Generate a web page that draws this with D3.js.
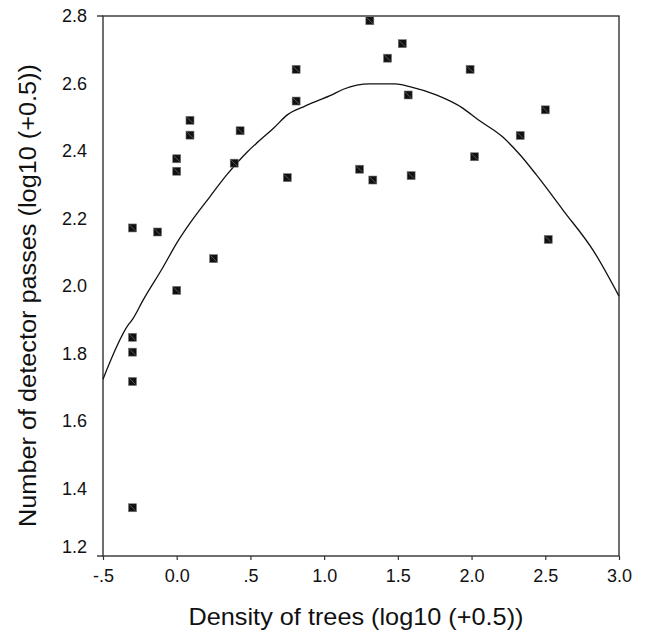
<!DOCTYPE html>
<html><head><meta charset="utf-8">
<script src="https://cdn.jsdelivr.net/npm/d3@7"></script>
<style>body{margin:0;background:#fff}svg{display:block}</style>
</head><body>
<svg id="c" width="645" height="632"></svg>
<script>
// Observed points: density of trees (x) and detector passes (y)
const pointX = [-0.30,-0.30,-0.30,-0.30,-0.30,-0.13,0.00,0.00,0.00,0.09,0.09,0.25,0.39,0.43,0.75,0.81,0.81,1.24,1.31,1.33,1.43,1.53,1.57,1.59,1.99,2.02,2.33,2.50,2.52];
const pointY = [2.172,1.848,1.804,1.717,1.343,2.160,2.377,2.340,1.987,2.491,2.447,2.081,2.364,2.460,2.321,2.642,2.548,2.346,2.786,2.314,2.675,2.718,2.566,2.327,2.642,2.383,2.446,2.522,2.138];
// Fitted curve
const curveX = [-0.50,-0.33,-0.30,-0.227,-0.091,0.00,0.09,0.226,0.339,0.48,0.554,0.66,0.75,0.87,0.95,1.04,1.13,1.31,1.48,1.58,1.76,1.94,2.04,2.21,2.33,2.44,2.62,2.83,3.00];
const curveY = [1.724,1.884,1.901,1.959,2.057,2.127,2.186,2.265,2.329,2.398,2.428,2.469,2.507,2.533,2.548,2.564,2.583,2.599,2.599,2.591,2.566,2.527,2.494,2.442,2.388,2.329,2.225,2.102,1.970];
const xTicks = [-0.5,0,0.5,1.0,1.5,2.0,2.5,3.0];
const xTickLabels = ["-.5","0.0",".5","1.0","1.5","2.0","2.5","3.0"];
const yTicks = [1.2,1.4,1.6,1.8,2.0,2.2,2.4,2.6,2.8];
const yTickLabels = ["1.2","1.4","1.6","1.8","2.0","2.2","2.4","2.6","2.8"];

const svg = d3.select("#c");
const L=103, R=619, T=16, B=556;
const x = d3.scaleLinear().domain([-0.5,3.0]).range([L,R]);
const y = d3.scaleLinear().domain([1.2,2.8]).range([B,T]);
const font = "'Liberation Sans', Arial, Helvetica, sans-serif";
const frame = "#333";

// frame
svg.append("rect").attr("x",L).attr("y",T).attr("width",R-L).attr("height",B-T)
  .attr("fill","none").attr("stroke",frame).attr("stroke-width",1.4);
svg.append("line").attr("x1",L-6).attr("x2",L).attr("y1",T).attr("y2",T).attr("stroke",frame).attr("stroke-width",1.4);
svg.append("line").attr("x1",L-6).attr("x2",L).attr("y1",B).attr("y2",B).attr("stroke",frame).attr("stroke-width",1.4);

// x axis
const xAxis = d3.axisBottom(x).tickValues(xTicks).tickSize(4).tickPadding(9)
  .tickFormat((d,i)=>xTickLabels[i]);
const gx = svg.append("g").attr("transform",`translate(0,${B})`).call(xAxis);
gx.select(".domain").remove();
gx.selectAll(".tick line").attr("stroke",frame).attr("stroke-width",1.2);
gx.selectAll(".tick text").attr("font-family",font).attr("font-size",18).attr("fill","#111");

// y axis labels (no tick marks)
const yAxis = d3.axisLeft(y).tickValues(yTicks).tickSize(0).tickPadding(16)
  .tickFormat((d,i)=>yTickLabels[i]);
const gy = svg.append("g").attr("transform",`translate(${L},0)`).call(yAxis);
gy.select(".domain").remove();
gy.selectAll(".tick text").attr("font-family",font).attr("font-size",18).attr("fill","#111")
  .attr("dy",(d)=> d===1.2 ? "-0.2em" : "0.32em");

// curve
const pts = curveX.map((v,i)=>[v,curveY[i]]);
svg.append("path").attr("d", d3.line().x(d=>x(d[0])).y(d=>y(d[1])).curve(d3.curveMonotoneX)(pts))
  .attr("fill","none").attr("stroke","#111").attr("stroke-width",1.3);

// points
const s=8;
const g = svg.append("g");
pointX.forEach((v,i)=>{
  const cx=x(v), cy=y(pointY[i]);
  g.append("rect").attr("x",cx-s/2).attr("y",cy-s/2).attr("width",s).attr("height",s)
    .attr("fill","#111").attr("stroke","#777").attr("stroke-width",0.6);
  g.append("line").attr("x1",cx-s/2+1).attr("y1",cy-s/2+1).attr("x2",cx+s/2-1).attr("y2",cy+s/2-1)
    .attr("stroke","#888").attr("stroke-width",0.6);
});

// axis titles
svg.append("text").attr("x",356).attr("y",625).attr("text-anchor","middle")
  .attr("font-family",font).attr("font-size",24).attr("fill","#111")
  .attr("textLength",335).attr("lengthAdjust","spacingAndGlyphs")
  .text("Density of trees (log10 (+0.5))");
svg.append("text").attr("transform","translate(36,295.5) rotate(-90)").attr("text-anchor","middle")
  .attr("font-family",font).attr("font-size",23).attr("fill","#111")
  .attr("textLength",463).attr("lengthAdjust","spacingAndGlyphs")
  .text("Number of detector passes (log10 (+0.5))");
</script>
</body></html>
